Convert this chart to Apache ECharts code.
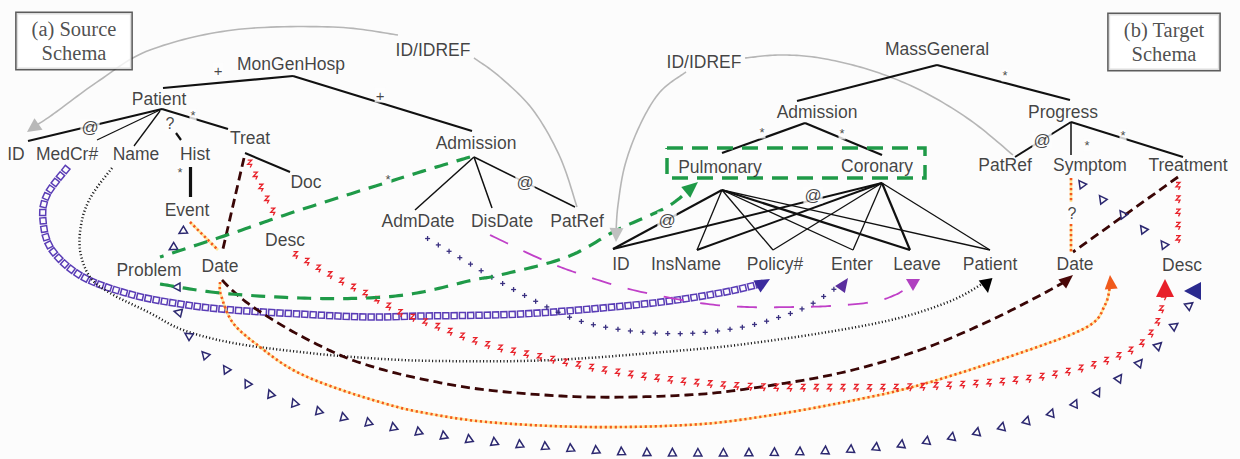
<!DOCTYPE html>
<html><head><meta charset="utf-8">
<script src="https://cdn.jsdelivr.net/npm/echarts@6/dist/echarts.min.js"></script>
<style>html,body{margin:0;padding:0;background:#fcfcfc}#c{width:1240px;height:459px}</style>
</head><body><div id="c"></div>
<script>
// ---------------- DATA ----------------
// schema element labels and their positions (diagram coordinates)
const nodeNames = ['MonGenHosp','ID/IDREF','Patient','ID','MedCr#','Name','Hist','Treat','Doc','Event','Desc','Problem','Date','Admission','AdmDate','DisDate','PatRef',
  'ID/IDREF','MassGeneral','Admission','Progress','Pulmonary','Coronary','PatRef','Symptom','Treatment','ID','InsName','Policy#','Enter','Leave','Patient','Date','Desc'];
const nodeX = [291,433,159,16,67,136,195,250,306,187,285,149,220,476,418,502,577, 704,937,817,1063,720,877,1005,1090,1188,621,686,775,852,917,990,1075,1182];
const nodeY = [64,50,99,154,154,154,154,138,182,210,240,270,266,143,221,221,221, 62,49,112,112,167,166,165,165,165,264,264,264,264,264,264,264,265];

// cardinality / attribute marks on edges
const markText = ['+','+','@','?','*','*','*','@','*','*','*','@','*','*','@','@','?'];
const markX = [218,380,90,170,193,180,388,525,1005,762,842,1042,1087,1123,667,813,1072];
const markY = [70,95,127,123,115,172,179,182,75,132,133,140,145,135,220,195,213];

// panel titles
const panelTitles = ['(a) Source\nSchema','(b) Target\nSchema'];
const panelX = [74,1164];
const panelY = [41,42];

// schema tree edges [x1,y1,x2,y2,weight]
const srcTreeEdges = [
  [163,88,293,76,2.2],[293,76,472,131,2.2],[162,109,28,141,2.2],[162,109,97,140,1.2],
  [160,111,134,146,1.3],[176,133,181,140,2.2],[162,109,228,129,2.2],[245,153,290,172,2],
  [190,167,190,197,3.2],[474,157,415,210,1.5],[474,157,492,208,1.5],[474,157,575,207,1.5]
];
const tgtTreeEdges = [
  [937,65,797,101,2.2],[937,65,1070,100,2.2],[805,123,722,153,2.2],[805,123,882,155,2.2],
  [1071,122,1015,157,2],[1071,122,1071,155,1.5],[1071,122,1183,157,2],
  [722,190,613,249,2],[722,190,697,250,1.3],[722,190,773,250,1.3],[722,190,853,250,1.3],[722,190,910,250,2.2],[722,190,990,250,1.3],
  [882,183,613,249,2],[882,183,697,250,2],[882,183,773,250,1.3],[882,183,853,250,1.3],[882,183,910,250,2.2],[882,183,990,250,1.3]
];
// dashed group box around Pulmonary / Coronary
const groupBox = [[667,148],[925,148],[925,178],[667,178],[667,148]];

// ID/IDREF reference arcs
const refSrcA = [[577,207],[560,157],[533,110],[500,77],[474,58]];
const refSrcB = [[398,35],[333,27],[233,30],[150,50],[100,80],[52,115],[35,126]];
const refTgtA = [[1013,155],[970,120],[920,90],[870,70],[820,58],[780,55],[745,58]];
const refTgtB = [[686,72],[660,92],[640,125],[625,165],[618,205],[616,232]];

// correspondence paths (waypoints)
const mapMedCr = [[67,168],[47,195],[43,220],[52,250],[83,277],[133,295],[187,305],[233,310],[300,314],[367,317],[420,316],[490,315],[553,312],[653,303],[720,293],[760,284]];
const mapName = [[112,168],[92,195],[82,220],[80,250],[90,277],[110,293],[150,313],[183,330],[233,343],[300,352],[367,358],[440,361],[553,360],[687,350],[753,343],[840,330],[903,317],[953,300],[982,284]];
const mapAdmDate = [[425,237],[467,262],[500,282],[543,305],[577,320],[610,328],[653,333],[697,333],[743,327],[780,317],[810,305],[840,285]];
const mapDisDate = [[490,235],[543,260],[583,275],[633,290],[700,303],[747,307],[793,307],[830,306],[873,302],[895,295],[907,288]];
const pathTreatDate = [[244,158],[222,253]];
const mapTreatDate = [[222,280],[233,291],[253,307],[290,330],[333,352],[367,365],[417,378],[487,390],[587,397],[687,395],[753,388],[840,373],[920,350],[987,322],[1037,297],[1066,281]];
const pathTreatmentDate = [[1178,177],[1073,252]];
const pathEventDate = [[190,222],[218,250]];
const mapEventDate = [[220,282],[221,295],[233,323],[260,347],[293,370],[333,387],[383,403],[420,412],[487,422],[587,427],[687,425],[753,418],[840,403],[920,385],[1020,353],[1087,327],[1105,305],[1110,286]];
const pathSymptomDateA = [[1071,178],[1071,202]];
const pathSymptomDateB = [[1071,224],[1071,252]];
const pathTreatDesc = [[248,160],[262,190],[277,220]];
const mapTreatDesc = [[292,253],[333,277],[377,300],[400,313],[427,323],[487,345],[553,360],[620,373],[687,382],[753,387],[840,388],[920,387],[1020,380],[1087,367],[1137,347],[1157,323],[1163,300],[1165,292]];
const pathTreatmentDesc = [[1178,182],[1178,252]];
const pathEventProblem = [[186,226],[168,256]];
const mapProblemDesc = [[177,285],[178,310],[187,333],[205,355],[227,370],[248,384],[273,395],[323,412],[399,428],[477,440],[555,447],[630,452],[710,453],[788,452],[867,448],[945,438],[1022,422],[1072,405],[1115,381],[1157,347],[1188,307],[1196,297]];
const pathSymptomDesc = [[1080,183],[1170,249]];
const pathAdmProblem = [[470,157],[417,173],[300,210],[233,233],[160,257]];
const mapProblemPulm = [[160,284],[220,293],[300,298],[367,298],[417,293],[473,280],[500,275],[567,257],[617,230],[667,207],[692,187]];

// arrowhead tips
const arrowTips = [[770,279],[988,293],[848,278],[913,291],[1073,275],[1110,275],[1165,279],[1184,291],[698,182],[27,132],[616,242]];

// ---------------- STYLE / LAYOUT ----------------
const STY = {
  gray:{line:true,color:'#b6b6b6',width:1.6},
  squares:{marker:'square',color:'#5a3db6',step:8.3,start:2},
  dots:{line:true,color:'#1a1a1a',width:2.5,dash:[1.1,2.3]},
  plus:{marker:'plus',color:'#3a3080',step:12.5,start:3},
  magenta:{line:true,color:'#c040c8',width:1.8,dash:[20,17]},
  darkred:{line:true,color:'#3a0606',width:2.8,dash:[9,5]},
  orange:{line:true,color:'#f4581c',width:2.6,dash:[2.2,2.8],under:'rgba(255,215,80,0.55)'},
  wavy:{marker:'z',color:'#e8222a',step:13.3,start:4},
  tri:{marker:'tri',color:'#2c2870',step:25.5,start:2},
  tri2:{marker:'tri',color:'#2c2870',step:19,start:6},
  green:{line:true,color:'#1f9a48',width:3.2,dash:[14,9]}
};
const PATHS = [
  {pts:refSrcA,kind:'gray'},{pts:refSrcB,kind:'gray'},{pts:refTgtA,kind:'gray'},{pts:refTgtB,kind:'gray'},
  {pts:mapMedCr,kind:'squares'},
  {pts:mapName,kind:'dots'},
  {pts:mapAdmDate,kind:'plus'},
  {pts:mapDisDate,kind:'magenta'},
  {pts:pathTreatDate,kind:'darkred'},{pts:mapTreatDate,kind:'darkred'},{pts:pathTreatmentDate,kind:'darkred'},
  {pts:pathEventDate,kind:'orange'},{pts:mapEventDate,kind:'orange'},{pts:pathSymptomDateA,kind:'orange'},{pts:pathSymptomDateB,kind:'orange'},
  {pts:pathTreatDesc,kind:'wavy'},{pts:mapTreatDesc,kind:'wavy'},{pts:pathTreatmentDesc,kind:'wavy'},
  {pts:pathEventProblem,kind:'tri2'},{pts:mapProblemDesc,kind:'tri'},{pts:pathSymptomDesc,kind:'tri'},
  {pts:pathAdmProblem,kind:'green'},{pts:mapProblemPulm,kind:'green'}
];
const ARROWS = [
  {ang:-30,L:15,W:7,c:'#3b2b9e'},{ang:80,L:14,W:7,c:'#000'},{ang:-55,L:14,W:6,c:'#5a2e9e'},
  {ang:90,L:12,W:7,c:'#b040c0'},{ang:-40,L:14,W:6,c:'#4a0808'},{ang:-95,L:14,W:6.5,c:'#f05a1c'},
  {ang:-90,L:18,W:9,c:'#e8202a'},{ang:180,L:17,W:9,c:'#2a2a8e'},{ang:-40,L:16,W:7,c:'#1f9a48'},
  {ang:145,L:14,W:7,c:'#b8b8b8'},{ang:92,L:14,W:7,c:'#c0c0c0'}
];

function smooth(px){
  if(px.length===2) return px;
  const out=[];
  for(let i=0;i<px.length-1;i++){
    const p0=px[i-1]||px[i], p1=px[i], p2=px[i+1], p3=px[i+2]||px[i+1];
    const c1=[p1[0]+(p2[0]-p0[0])/6, p1[1]+(p2[1]-p0[1])/6];
    const c2=[p2[0]-(p3[0]-p1[0])/6, p2[1]-(p3[1]-p1[1])/6];
    const N=16;
    for(let k=(i?1:0);k<=N;k++){
      const t=k/N, mt=1-t;
      out.push([mt*mt*mt*p1[0]+3*mt*mt*t*c1[0]+3*mt*t*t*c2[0]+t*t*t*p2[0],
                mt*mt*mt*p1[1]+3*mt*mt*t*c1[1]+3*mt*t*t*c2[1]+t*t*t*p2[1]]);
    }
  }
  return out;
}
function along(poly,step,start){
  const res=[]; let acc=0, next=start;
  for(let i=0;i<poly.length-1;i++){
    const a=poly[i], b=poly[i+1];
    const dx=b[0]-a[0], dy=b[1]-a[1], L=Math.hypot(dx,dy);
    if(!L) continue;
    while(next<=acc+L){const t=(next-acc)/L; res.push({x:a[0]+dx*t,y:a[1]+dy*t,tx:dx/L,ty:dy/L}); next+=step;}
    acc+=L;
  }
  return res;
}
function marker(kind,m,c){
  if(kind==='square'){
    const s=3, u=[m.tx*s,m.ty*s], v=[-m.ty*s,m.tx*s];
    return {type:'polygon',shape:{points:[[m.x+u[0]+v[0],m.y+u[1]+v[1]],[m.x+u[0]-v[0],m.y+u[1]-v[1]],[m.x-u[0]-v[0],m.y-u[1]-v[1]],[m.x-u[0]+v[0],m.y-u[1]+v[1]]]},style:{fill:'none',stroke:c,lineWidth:1.5}};
  }
  if(kind==='tri'){
    const d=[-m.ty,-m.tx], n=[-d[1],d[0]];
    return {type:'polygon',shape:{points:[[m.x+d[0]*4.5,m.y+d[1]*4.5],[m.x-d[0]*3+n[0]*4,m.y-d[1]*3+n[1]*4],[m.x-d[0]*3-n[0]*4,m.y-d[1]*3-n[1]*4]]},style:{fill:'none',stroke:c,lineWidth:1.5}};
  }
  if(kind==='plus'){
    return {type:'group',children:[
      {type:'line',shape:{x1:m.x-2.5,y1:m.y,x2:m.x+2.5,y2:m.y},style:{stroke:c,lineWidth:1.3}},
      {type:'line',shape:{x1:m.x,y1:m.y-2.5,x2:m.x,y2:m.y+2.5},style:{stroke:c,lineWidth:1.3}}]};
  }
  // z
  return {type:'polyline',shape:{points:[[m.x-2,m.y-3.5],[m.x+2,m.y-3.5],[m.x-2,m.y+0.8],[m.x+2,m.y+0.8],[m.x+0.5,m.y+3.8]]},style:{fill:'none',stroke:c,lineWidth:1.3}};
}
function renderPath(params,api){
  const P=PATHS[params.dataIndex], st=STY[P.kind];
  const poly=smooth(P.pts.map(p=>api.coord(p)));
  const ch=[];
  if(st.under) ch.push({type:'polyline',shape:{points:poly},style:{fill:'none',stroke:st.under,lineWidth:st.width}});
  if(st.line) ch.push({type:'polyline',shape:{points:poly},style:{fill:'none',stroke:st.color,lineWidth:st.width,lineDash:st.dash||null}});
  if(st.marker) along(poly,st.step,st.start).forEach(m=>ch.push(marker(st.marker,m,st.color)));
  return {type:'group',children:ch};
}
function renderArrow(params,api){
  const A=ARROWS[params.dataIndex];
  const t=api.coord(arrowTips[params.dataIndex]);
  const a=A.ang*Math.PI/180, d=[Math.cos(a),Math.sin(a)], n=[-d[1],d[0]];
  const b=[t[0]-d[0]*A.L,t[1]-d[1]*A.L];
  return {type:'polygon',shape:{points:[t,[b[0]+n[0]*A.W,b[1]+n[1]*A.W],[b[0]-n[0]*A.W,b[1]-n[1]*A.W]]},style:{fill:A.c}};
}
const edgeData = srcTreeEdges.concat(tgtTreeEdges).map(e=>({coords:[[e[0],e[1]],[e[2],e[3]]],lineStyle:{width:e[4]}}));
const markFont = {'+':15,'@':17,'*':13,'?':16};

const chart = echarts.init(document.getElementById('c'),null,{renderer:'svg',width:1240,height:459});
chart.setOption({
  animation:false,
  backgroundColor:'#fcfcfc',
  grid:{left:0,right:0,top:0,bottom:0},
  xAxis:{type:'value',min:0,max:1240,show:false},
  yAxis:{type:'value',min:0,max:459,inverse:true,show:false},
  series:[
    {type:'custom',coordinateSystem:'cartesian2d',z:1,silent:true,renderItem:renderPath,
     data:PATHS.slice(0,4).map((p,i)=>[p.pts[0][0],p.pts[0][1],i])},
    {type:'lines',coordinateSystem:'cartesian2d',z:2,silent:true,data:edgeData,lineStyle:{color:'#111',opacity:1}},
    {type:'lines',coordinateSystem:'cartesian2d',polyline:true,z:2,silent:true,
     data:[{coords:groupBox}],lineStyle:{color:'#1f9a48',width:3.5,type:[16,9],opacity:1}},
    {type:'custom',coordinateSystem:'cartesian2d',z:3,silent:true,
     renderItem:(p,api)=>renderPath({dataIndex:p.dataIndex+4},api),
     data:PATHS.slice(4).map((p,i)=>[p.pts[0][0],p.pts[0][1],i])},
    {type:'custom',coordinateSystem:'cartesian2d',z:4,silent:true,renderItem:renderArrow,
     data:arrowTips.map(t=>[t[0],t[1]])},
    {type:'scatter',z:5,silent:true,symbolSize:1,itemStyle:{color:'rgba(0,0,0,0)'},
     data:nodeNames.map((n,i)=>({name:n,value:[nodeX[i],nodeY[i]]})),
     label:{show:true,position:'inside',formatter:'{b}',color:'#111',fontFamily:'Liberation Sans, Arial, sans-serif',fontSize:17.5}},
    {type:'scatter',z:6,silent:true,symbolSize:1,itemStyle:{color:'rgba(0,0,0,0)'},
     data:markText.map((t,i)=>({name:t,value:[markX[i],markY[i]],label:{fontSize:markFont[t]}})),
     label:{show:true,position:'inside',formatter:'{b}',color:'#161616',fontFamily:'Liberation Sans, Arial, sans-serif',backgroundColor:'#fcfcfc',padding:[0,1]}},
    {type:'scatter',z:6,silent:true,symbolSize:1,itemStyle:{color:'rgba(0,0,0,0)'},
     data:panelTitles.map((t,i)=>({name:t,value:[panelX[i],panelY[i]]})),
     label:{show:true,position:'inside',formatter:'{b}',color:'#222',fontFamily:'Liberation Serif, Times New Roman, serif',fontSize:20.5,lineHeight:24,
       backgroundColor:'#fff',borderColor:'#333',borderWidth:1.5,padding:[4,15,4,15],align:'center'}}
  ]
});
</script></body></html>
